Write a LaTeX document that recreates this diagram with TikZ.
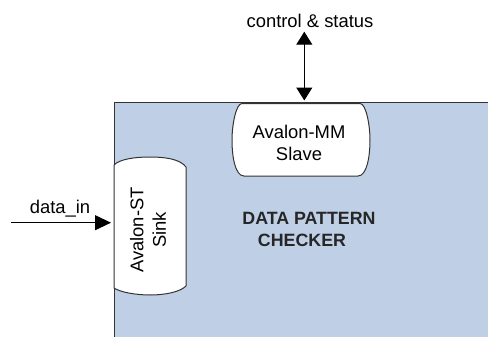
\documentclass[tikz,border=0pt]{standalone}
\usepackage{fontspec}
\setmainfont{Liberation Sans}
\usetikzlibrary{arrows.meta}
\definecolor{boxblue}{HTML}{BFCFE6}
\definecolor{edge}{HTML}{333333}
\tikzset{
  lbl/.style={font=\fontsize{9.2}{11.3}\selectfont, text=black, inner sep=0pt, align=center},
  boldlbl/.style={font=\fontsize{8.9}{11}\selectfont\bfseries, text=black!85, inner sep=0pt, align=center},
  outline/.style={draw=edge, line width=0.5pt},
  sig/.style={draw=black, line width=0.55pt},
}
\begin{document}
\begin{tikzpicture}[x=0.5pt,y=-0.5pt]
\useasboundingbox (0,0) rectangle (488,337);
\clip (0,0) rectangle (488,337);
% main block
\draw[outline, fill=boxblue] (114,102.7) rectangle (500,350);
% Avalon-MM slave interface
\draw[outline, fill=white] (242,103.5) -- (360,103.5)
  .. controls (366,103.5) and (370,125) .. (370,140)
  .. controls (370,156) and (367,176) .. (358,176) -- (244,176)
  .. controls (235,176) and (232,156) .. (232,140)
  .. controls (232,125) and (236,103.5) .. (242,103.5) -- cycle;
% Avalon-ST sink interface
\draw[outline, fill=white] (114,165)
  .. controls (120,159) and (135,157) .. (150,157)
  .. controls (165,157) and (180,159) .. (186,167) -- (186,286)
  .. controls (180,292) and (165,295) .. (150,295)
  .. controls (135,295) and (120,292) .. (114,288) -- cycle;
% texts
\node[lbl] (cs) at (310,20.7) {control \& status};
\node[lbl] (mm) at (299,143) {Avalon-MM\\Slave};
\node[lbl, rotate=90] (st) at (148,230) {Avalon-ST\\Sink};
\node[lbl] (din) at (60,209) {data\_in};
\node[boldlbl] (dpc) at (309,229) {DATA PATTERN\\CHECKER\hspace*{7pt}};
% connectors
\coordinate (csend) at (304.3,31.7);
\coordinate (mmtop) at (304.3,100.5);
\coordinate (dinstart) at (11,222.7);
\coordinate (stleft) at (111,222.7);
\draw[sig, {Triangle[length=6.5pt,width=8pt]}-{Triangle[length=6.5pt,width=8pt]}] (csend) -- (mmtop);
\draw[sig, -{Triangle[length=8pt,width=7.5pt]}] (dinstart) -- (stleft);
\end{tikzpicture}
\end{document}
